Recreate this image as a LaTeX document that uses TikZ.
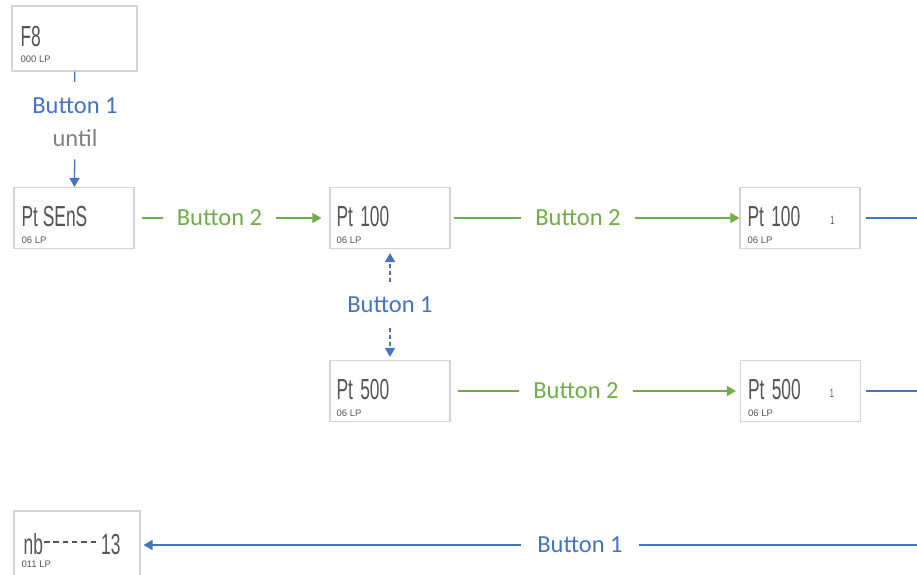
\documentclass[tikz,border=0pt]{standalone}
\usepackage{fontspec}
\setmainfont{Carlito}
\newfontfamily\lcdfont{Liberation Sans}
\usetikzlibrary{arrows.meta}

\definecolor{btnblue}{HTML}{4472C4}
\definecolor{btngreen}{HTML}{70AD47}
\definecolor{untilgray}{HTML}{808080}
\definecolor{boxgray}{HTML}{D4D4D4}
\definecolor{lcdgray}{HTML}{555555}

% === LCD text: narrow sans ===
\def\lcdsx{0.6} % horizontal squeeze of the display digits
\newcommand{\lcdbig}[1]{\scalebox{\lcdsx}[1]{#1}}
\newcommand{\lcddash}{\rule[12pt]{9pt}{1.6pt}\hspace{6.5pt}}

\tikzset{
  lcdbox/.style={draw=boxgray, line width=1.2pt, minimum width=120pt, minimum height=61pt, inner sep=0pt},
  bigtxt/.style={anchor=west, inner sep=0pt, text=lcdgray, font=\lcdfont\fontsize{29}{29}\selectfont},
  smalltxt/.style={anchor=west, inner sep=0pt, text=lcdgray, font=\lcdfont\fontsize{9.5}{10}\selectfont},
  marktxt/.style={anchor=center, inner sep=0pt, text=lcdgray, font=\lcdfont\fontsize{12}{12}\selectfont},
  btnlbl/.style={font=\fontsize{24.5}{26}\selectfont, inner ysep=0pt, inner xsep=14pt},
  blueline/.style={color=btnblue, line width=1.3pt},
  greenline/.style={color=btngreen, line width=1.3pt},
  dashline/.style={dash pattern=on 4pt off 3pt},
  arrowto/.style={-{Triangle[length=9pt,width=10pt]}},
}

\begin{document}
\begin{tikzpicture}[x=1pt, y=-1pt]
\useasboundingbox (0,0) rectangle (917,574);

% === Display boxes ===
\node[lcdbox, minimum width=125pt, minimum height=65pt] (f8) at (74.5,38.5) {};
\node[lcdbox] (sens)  at (74,218) {};
\node[lcdbox] (p100)  at (390,218) {};
\node[lcdbox] (p100b) at (800,218) {};
\node[lcdbox] (p500)  at (390,391) {};
\node[lcdbox] (p500b) at (800.5,391) {};
\node[lcdbox, minimum width=126pt, minimum height=68pt] (nb) at (77,545) {};

% === Display contents ===
\node[bigtxt]   (f8big)    at ([shift={(9,31)}]f8.north west) {\lcdbig{F8}};
\node[smalltxt] (f8small)  at ([shift={(9,54)}]f8.north west) {000 LP};
\node[bigtxt]   (sensbig)  at ([shift={(8,30)}]sens.north west) {\lcdbig{Pt SEnS}};
\node[smalltxt] (senssmall) at ([shift={(8,53)}]sens.north west) {06 LP};
\node[bigtxt]   (p100big)  at ([shift={(7,30)}]p100.north west) {\lcdbig{Pt\hspace{4pt} 100}};
\node[smalltxt] (p100small) at ([shift={(7,53)}]p100.north west) {06 LP};
\node[bigtxt]   (p100bbig) at ([shift={(8,30)}]p100b.north west) {\lcdbig{Pt\hspace{4pt} 100}};
\node[smalltxt] (p100bsmall) at ([shift={(8,53)}]p100b.north west) {06 LP};
\node[marktxt]  (p100bone) at ([shift={(93,33)}]p100b.north west) {\lcdbig{1}};
\node[bigtxt]   (p500big)  at ([shift={(7,30)}]p500.north west) {\lcdbig{Pt\hspace{4pt} 500}};
\node[smalltxt] (p500small) at ([shift={(7,53)}]p500.north west) {06 LP};
\node[bigtxt]   (p500bbig) at ([shift={(8,30)}]p500b.north west) {\lcdbig{Pt\hspace{4pt} 500}};
\node[smalltxt] (p500bsmall) at ([shift={(8,53)}]p500b.north west) {06 LP};
\node[marktxt]  (p500bone) at ([shift={(92,33)}]p500b.north west) {\lcdbig{1}};
\node[bigtxt]   (nbbig)    at ([shift={(10,34)}]nb.north west)
  {\lcdbig{nb\hspace{2pt}\lcddash\lcddash\lcddash\lcddash\lcddash\lcddash\hspace{2pt}13}};
\node[smalltxt] (nbsmall)  at ([shift={(8,54)}]nb.north west) {011 LP};

% === Button labels ===
\node[btnlbl, text=btnblue, inner ysep=16pt] (f8lbl) at (75,106) {Button 1};
\node[btnlbl, text=untilgray, inner ysep=12pt] (until) at (75,138.5) {until};
\node[btnlbl, text=btngreen] (senslbl) at (219.5,218) {Button 2};
\node[btnlbl, text=btngreen] (p100lbl) at (578,218) {Button 2};
\node[btnlbl, text=btngreen] (p500lbl) at (576,391) {Button 2};
\node[btnlbl, text=btnblue, inner ysep=15pt] (midlbl) at (390,305) {Button 1};
\node[btnlbl, text=btnblue, inner xsep=16pt] (nblbl) at (580,545) {Button 1};

% === Off-page ends ===
\coordinate (out100) at (917,218);
\coordinate (out500) at (917,391);
\coordinate (innb)   at (917,545);

% === Connectors ===
\draw[blueline] (f8) -- (f8lbl);
\draw[blueline, arrowto] (until) -- (sens);
\draw[greenline, shorten <=7pt] (sens) -- (senslbl);
\draw[greenline, arrowto, shorten >=8pt] (senslbl) -- (p100);
\draw[greenline, shorten <=3pt] (p100) -- (p100lbl);
\draw[greenline, arrowto] (p100lbl) -- (p100b);
\draw[greenline, shorten <=7pt] (p500) -- (p500lbl);
\draw[greenline, arrowto, shorten >=4pt] (p500lbl) -- (p500b);
\draw[blueline, dashline, arrowto, shorten >=4pt] (midlbl) -- (p100);
\draw[blueline, dashline, arrowto, shorten >=3pt] (midlbl) -- (p500);
\draw[blueline, shorten <=5pt] (p100b) -- (out100);
\draw[blueline, shorten <=5pt] (p500b) -- (out500);
\draw[blueline] (innb) -- (nblbl);
\draw[blueline, arrowto, shorten >=3pt] (nblbl) -- (nb);
\end{tikzpicture}
\end{document}
